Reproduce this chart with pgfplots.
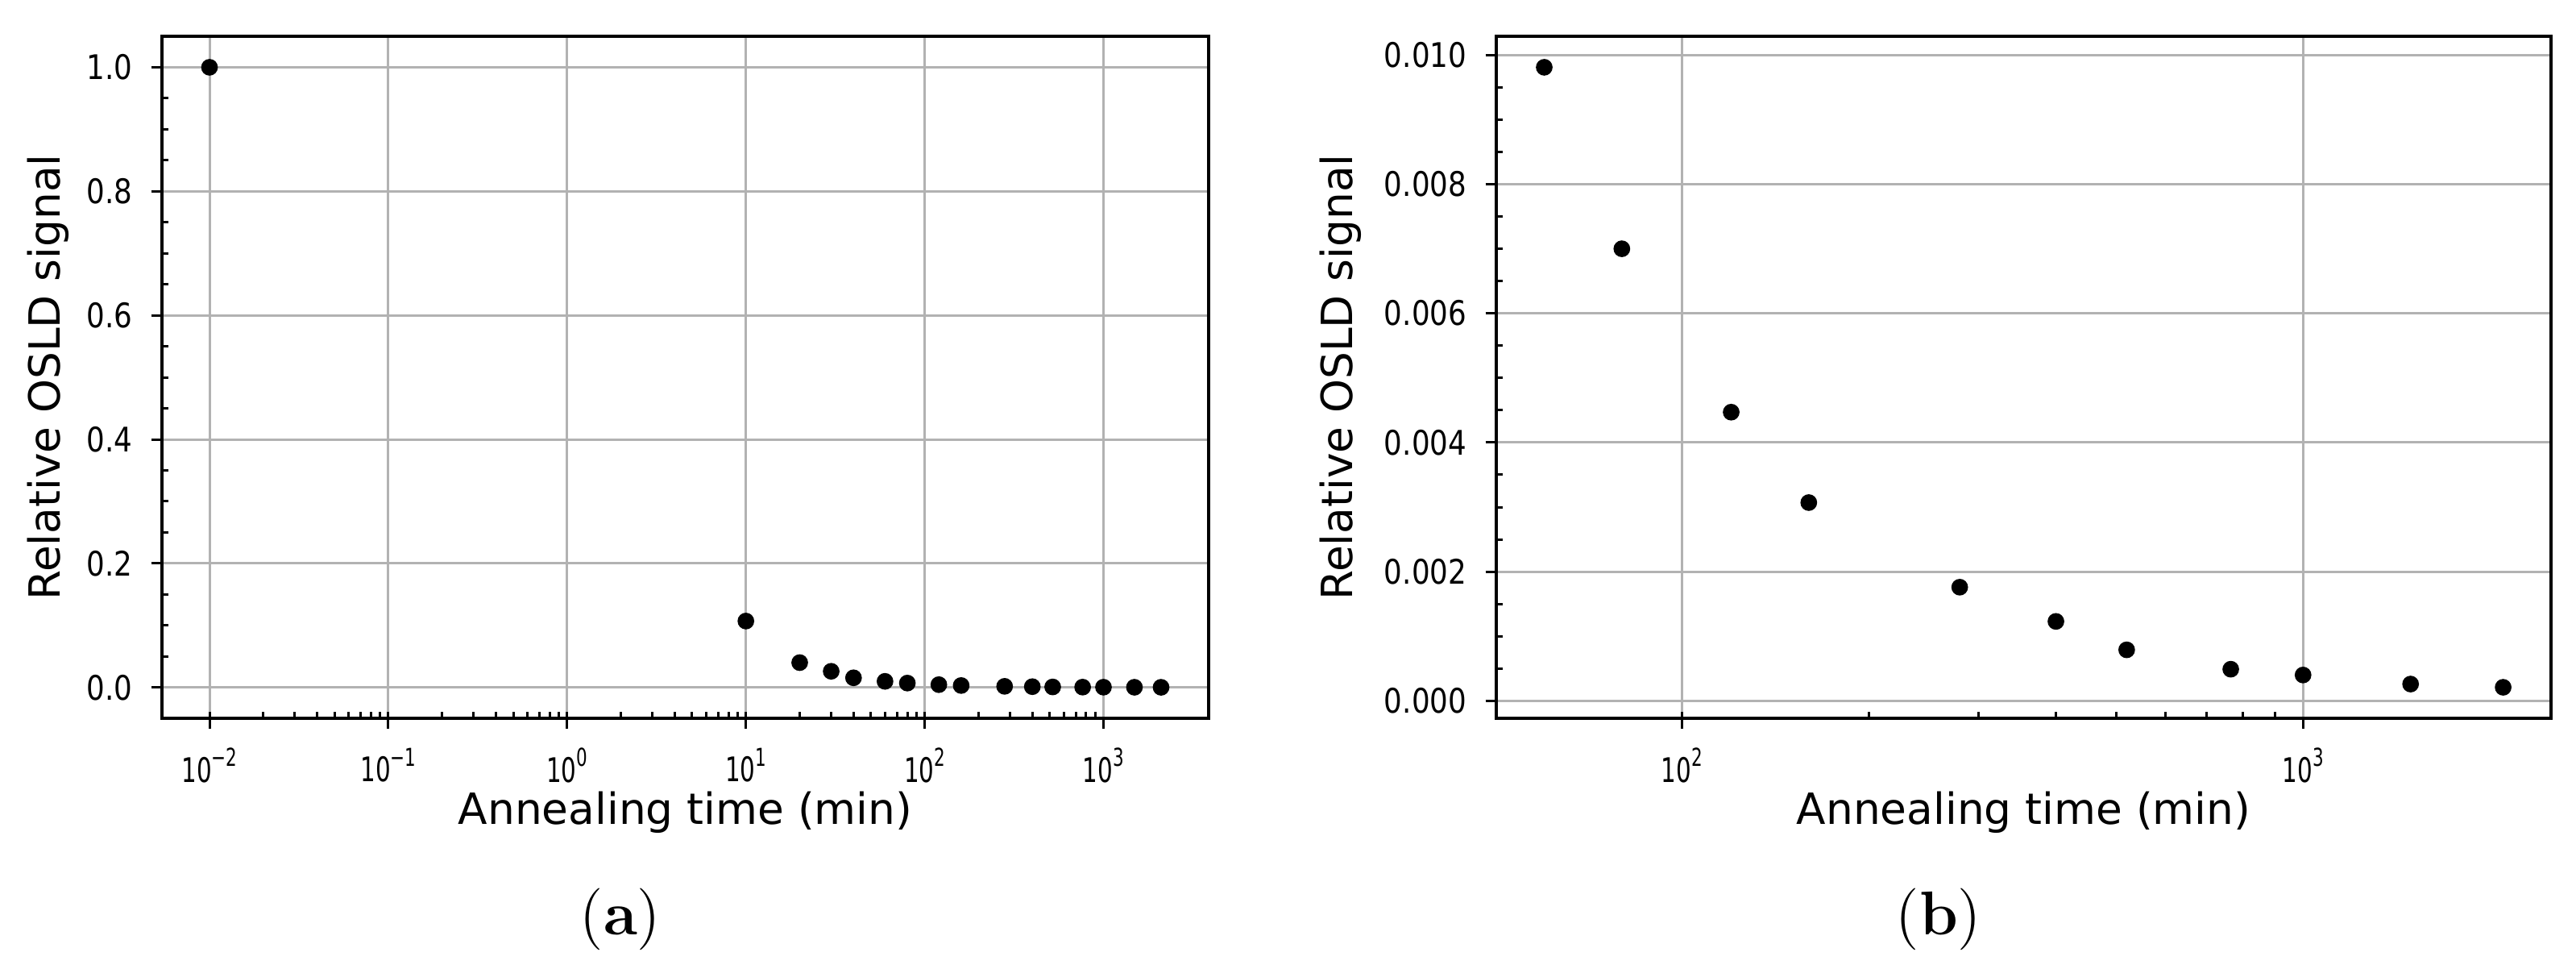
\documentclass[border=0pt]{standalone}
\usepackage{fontspec}
\usepackage{pgfplots}
\pgfplotsset{compat=1.18}
\newfontfamily\dejavu{DejaVu Sans}
\newfontfamily\tickfont[FakeStretch=0.85]{DejaVu Sans}
\newfontfamily\xtickfont[FakeStretch=0.7]{DejaVu Sans}
\newcommand{\pw}[1]{10\raisebox{0.85ex}{\fontsize{4.6}{5}\selectfont #1}}

\pgfplotstableread{
x y
0.01 1.0
10 0.107
20 0.040
30 0.026
40 0.0155
60 0.0098
80 0.0070
120 0.00447
160 0.00307
280 0.00176
400 0.00123
520 0.00079
765 0.00049
1000 0.00040
1490 0.00026
2100 0.00021
}\dataA

\pgfplotstableread{
x y
60 0.00981
80 0.00700
120 0.00447
160 0.00307
280 0.00176
400 0.00123
520 0.00079
765 0.00049
1000 0.00040
1490 0.00026
2100 0.00021
}\dataB

\pgfplotsset{
  oslstyle/.style={
    scale only axis,
    tick pos=left, tick align=outside,
    major tick length=2pt, minor tick length=-1.2pt,
    every tick/.append style={black, line width=0.45pt},
    grid=major, major grid style={color=black!30, line width=0.45pt},
    axis line style={line width=0.6pt},
    scaled y ticks=false,
    yticklabel style={font=\tickfont\fontsize{6.3}{7.5}\selectfont},
    xticklabel style={font=\xtickfont\fontsize{6.3}{7.5}\selectfont},
    label style={font=\dejavu\fontsize{8}{9}\selectfont},
    xlabel={Annealing time (min)}, ylabel={Relative OSLD signal},
    anchor=south west,
    minor y tick num=3,
    clip=false,
  },
  dots/.style={only marks, mark=*, mark size=1.35pt, black, mark options={draw=black, fill=black}},
}

\begin{document}
\begin{tikzpicture}
\begin{semilogxaxis}[oslstyle,
  at={(30.15pt,46.5pt)}, width=194.85pt, height=126.9pt,
  xmin=0.005420, xmax=3875, ymin=-0.04978, ymax=1.04999,
  xtick={0.01,0.1,1,10,100,1000},
  xticklabels={\pw{−2},\pw{−1},\pw{0},\pw{1},\pw{2},\pw{3}},
  ytick={0,0.2,0.4,0.6,0.8,1.0},
  yticklabels={0.0,0.2,0.4,0.6,0.8,1.0},
  xlabel style={at={(axis description cs:0.5,0)}, anchor=center, yshift=-17.55pt},
  ylabel style={at={(axis description cs:-0.1085,0.5)}, anchor=center},
]
\addplot[dots] table[x=x,y=y] {\dataA};
\end{semilogxaxis}

\begin{semilogxaxis}[oslstyle,
  at={(278.55pt,46.5pt)}, width=196.35pt, height=126.9pt,
  xmin=50.23, xmax=2508, ymin=-0.00027, ymax=0.01029,
  xtick={100,1000},
  xticklabels={\pw{2},\pw{3}},
  ytick={0,0.002,0.004,0.006,0.008,0.010},
  yticklabels={0.000,0.002,0.004,0.006,0.008,0.010},
  xlabel style={at={(axis description cs:0.5,0)}, anchor=center, yshift=-17.55pt},
  ylabel style={at={(axis description cs:-0.1474,0.5)}, anchor=center},
]
\addplot[dots] table[x=x,y=y] {\dataB};
\end{semilogxaxis}

\node[font=\fontsize{11.5}{13}\selectfont] at (115.5pt,9.15pt) {(\textbf{a})};
\node[font=\fontsize{11.5}{13}\selectfont] at (360.9pt,9.15pt) {(\textbf{b})};

\pgfresetboundingbox
\useasboundingbox (0,0) rectangle (479.55pt,180.15pt);
\end{tikzpicture}
\end{document}
